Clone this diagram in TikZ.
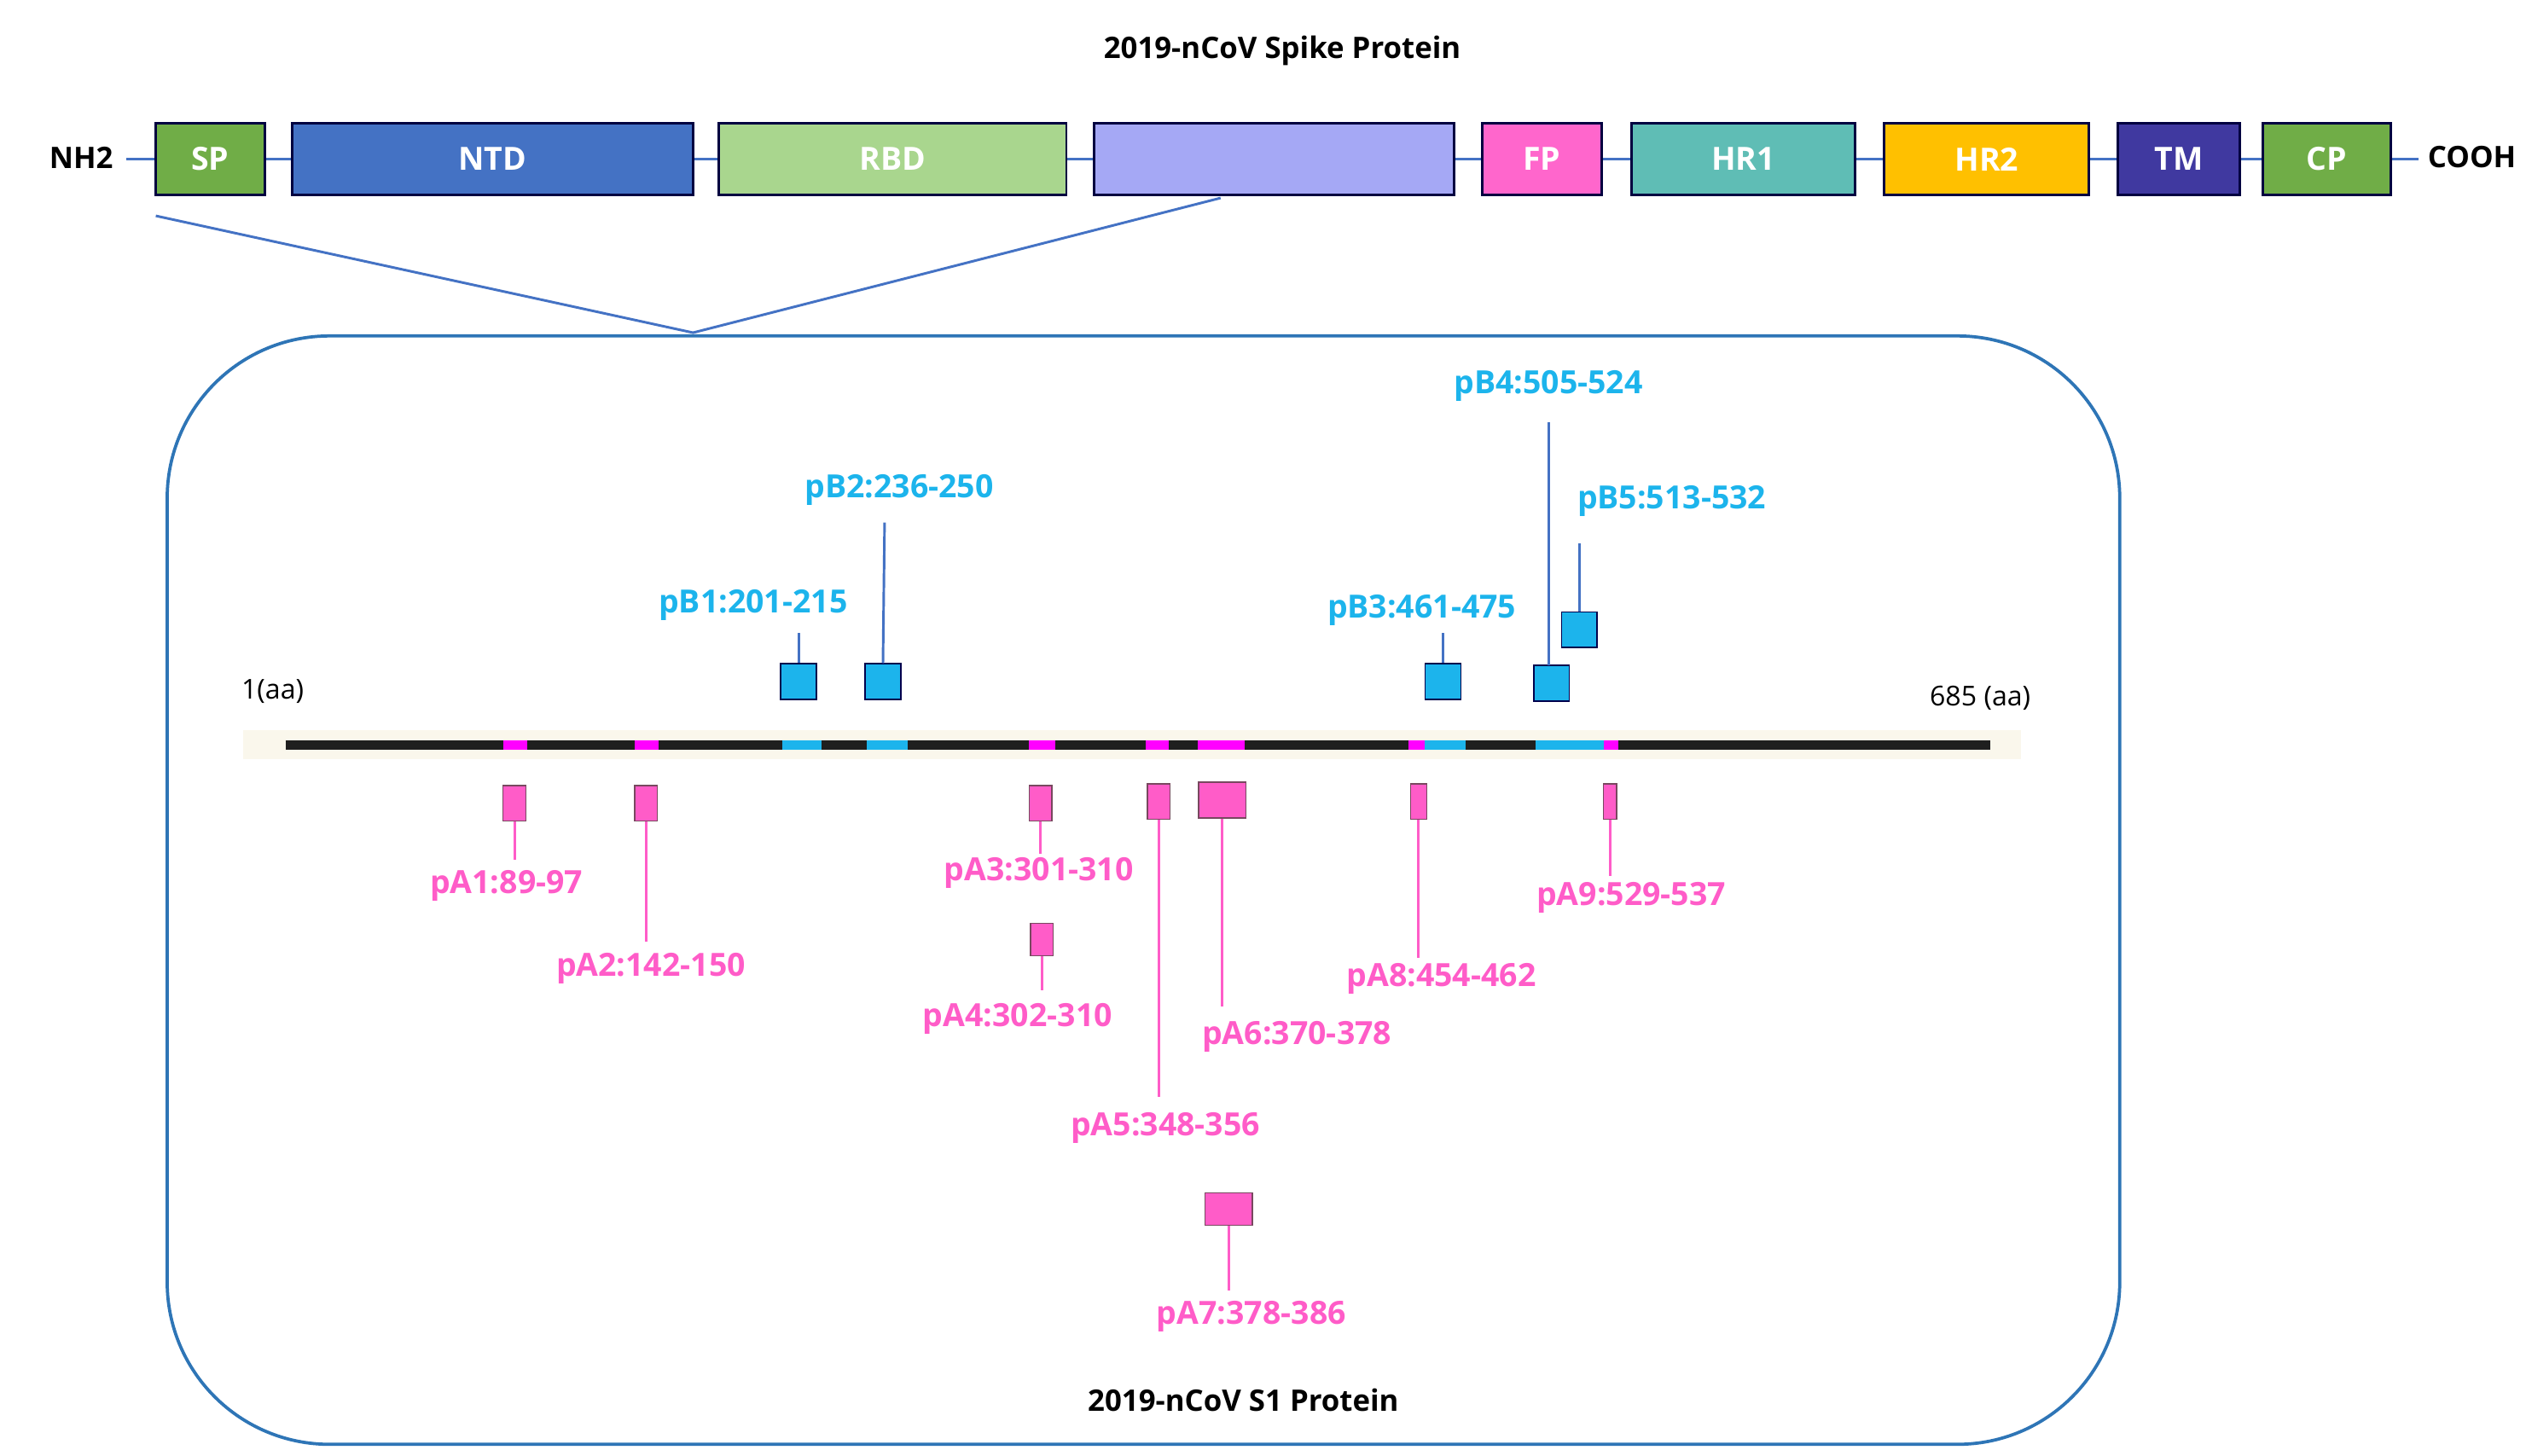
\documentclass[tikz,border=0pt]{standalone}
\usepackage{fontspec}
\setmainfont{Open Sans}
\definecolor{cyanc}{HTML}{1CB4EC}
\definecolor{pinkc}{HTML}{FF5CC8}
\definecolor{linkb}{HTML}{4472C4}
\definecolor{magc}{HTML}{FF00FF}
\definecolor{cgreen}{RGB}{112,173,71}
\definecolor{cblue}{RGB}{68,114,196}
\definecolor{clgreen}{RGB}{169,214,142}
\definecolor{clav}{RGB}{165,168,245}
\definecolor{cpink}{RGB}{255,102,204}
\definecolor{cteal}{RGB}{95,189,181}
\definecolor{cgold}{RGB}{255,192,0}
\definecolor{cdblue}{RGB}{64,57,160}
\definecolor{cframe}{RGB}{46,117,182}
\definecolor{cband}{RGB}{250,247,236}
\begin{document}
\begin{tikzpicture}[x=0.05cm,y=-0.05cm,
  dom/.style={draw=black!75!blue,line width=2.2pt,minimum height=2.2cm,inner sep=0pt,text=white,font=\fontsize{28}{32}\selectfont\bfseries},
  lbl/.style={font=\fontsize{28}{32}\selectfont\bfseries},
  cy/.style={lbl,text=cyanc},
  pk/.style={lbl,text=pinkc},
  bsq/.style={fill=cyanc,draw=black!70!blue,line width=1pt,minimum size=1.1cm,inner sep=0pt},
  psq/.style={fill=pinkc,draw=black!60!magenta,line width=1pt,minimum height=1.1cm,inner sep=0pt},
  bl/.style={draw=linkb,line width=2.2pt},
  pl/.style={draw=pinkc,line width=2.2pt},
  seg/.style={line width=0.3cm}]
\useasboundingbox (0,0) rectangle (1560,897);
\fill[white] (0,0) rectangle (1560,897);
\node[font=\fontsize{26}{30}\selectfont\bfseries] (title) at (790,31) {2019-nCoV Spike Protein};
\draw[linkb,line width=2.5pt] (78,98) -- (1490,98);
\node[font=\fontsize{26}{30}\selectfont\bfseries] (nh) at (50,97) {NH2};
\node[font=\fontsize{26}{30}\selectfont\bfseries] (cooh) at (1523,97) {COOH};
\node[dom,fill=cgreen,minimum width=67*0.05cm] (sp) at (129.5,98) {SP};
\node[dom,fill=cblue,minimum width=247*0.05cm] (ntd) at (303.5,98) {NTD};
\node[dom,fill=clgreen,minimum width=214*0.05cm] (rbd) at (550,98) {RBD};
\node[dom,fill=clav,minimum width=222*0.05cm] (s1) at (785,98) {};
\node[dom,fill=cpink,minimum width=74*0.05cm] (fp) at (950,98) {FP};
\node[dom,fill=cteal,minimum width=138*0.05cm] (hr1) at (1074,98) {HR1};
\node[dom,fill=cgold,minimum width=126*0.05cm] (hr2) at (1224,98) {HR2};
\node[dom,fill=cdblue,minimum width=75*0.05cm] (tm) at (1342.5,98) {TM};
\node[dom,fill=cgreen,minimum width=79*0.05cm] (cp) at (1433.5,98) {CP};
\coordinate (apex) at (427,205);
\coordinate (zl) at (96,133);
\coordinate (zr) at (752,122);
\draw[linkb,line width=2.2pt] (zl) -- (apex) -- (zr);
\draw[draw=cframe,line width=2.8pt,rounded corners=5cm] (103,207) rectangle (1306,890);
% bar
\fill[cband] (150,450) rectangle (1245,468);
\draw[seg,black!88] (176,459) -- (1226,459);
\foreach \a/\b in {310/325,391/406,634/650,706/720,738/767,868/878,988/997}
  \draw[seg,magc] (\a,459) -- (\b,459);
\foreach \a/\b in {482/506,534/559,878/903,946/988}
  \draw[seg,cyanc] (\a,459) -- (\b,459);
\node[font=\fontsize{24}{28}\selectfont] (l1) at (168,426) {1(aa)};
\node[font=\fontsize{24}{28}\selectfont] (l685) at (1220,430) {685 (aa)};
% blue
\node[bsq] (b1) at (492,420) {}; \node[cy] (tb1) at (464,373) {pB1:201-215};
\node[bsq] (b2) at (544,420) {}; \node[cy] (tb2) at (554,302) {pB2:236-250};
\node[bsq] (b3) at (889,420) {}; \node[cy] (tb3) at (876,376) {pB3:461-475};
\node[bsq] (b4) at (956,421) {}; \node[cy] (tb4) at (954,238) {pB4:505-524};
\node[bsq] (b5) at (973,388) {}; \node[cy] (tb5) at (1030,309) {pB5:513-532};
\coordinate (c1) at (492,390); \coordinate (c2) at (545,322); \coordinate (c3) at (889,390);
\coordinate (c4) at (954,260); \coordinate (c5) at (973,335); \coordinate (d4) at (954,410);
\draw[bl] (c1) -- (b1.north); \draw[bl] (c2) -- (b2.north); \draw[bl] (c3) -- (b3.north);
\draw[bl] (c4) -- (d4); \draw[bl] (c5) -- (b5.north);
% pink
\node[psq,minimum width=0.7cm] (a1) at (317,495) {}; \node[pk] (ta1) at (312,546) {pA1:89-97};
\node[psq,minimum width=0.7cm] (a2) at (398,495) {}; \node[pk] (ta2) at (401,597) {pA2:142-150};
\node[psq,minimum width=0.7cm] (a3) at (641,495) {}; \node[pk] (ta3) at (640,538) {pA3:301-310};
\node[psq,minimum width=0.7cm,minimum height=1cm] (a4) at (642,579) {}; \node[pk] (ta4) at (627,628) {pA4:302-310};
\node[psq,minimum width=0.7cm] (a5) at (714,494) {}; \node[pk] (ta5) at (718,695) {pA5:348-356};
\node[psq,minimum width=1.45cm] (a6) at (753,493) {}; \node[pk] (ta6) at (799,639) {pA6:370-378};
\node[psq,minimum width=1.45cm,minimum height=1cm] (a7) at (757,745) {}; \node[pk] (ta7) at (771,811) {pA7:378-386};
\node[psq,minimum width=0.5cm] (a8) at (874,494) {}; \node[pk] (ta8) at (888,603) {pA8:454-462};
\node[psq,minimum width=0.4cm] (a9) at (992,494) {}; \node[pk] (ta9) at (1005,553) {pA9:529-537};
\coordinate (e1) at (317,530); \coordinate (e2) at (398,580); \coordinate (e3) at (641,526);
\coordinate (e4) at (642,610); \coordinate (e5) at (714,676); \coordinate (e6) at (753,620);
\coordinate (e7) at (757,795); \coordinate (e8) at (874,590); \coordinate (e9) at (992,540);
\foreach \i in {1,...,9} \draw[pl] (a\i.south) -- (e\i);
\node[font=\fontsize{26}{30}\selectfont\bfseries] (s1t) at (766,863) {2019-nCoV S1 Protein};
\end{tikzpicture}
\end{document}
